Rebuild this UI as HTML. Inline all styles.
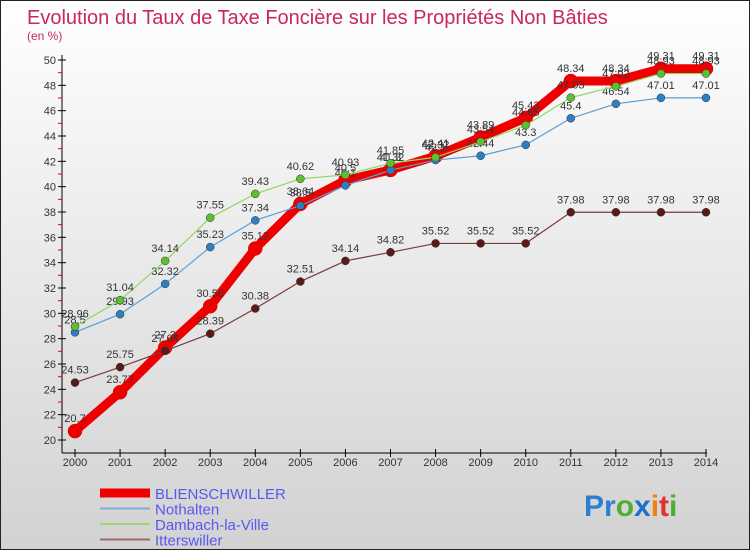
<!DOCTYPE html>
<html><head><meta charset="utf-8"><style>
body{margin:0;width:750px;height:550px;overflow:hidden;font-family:"Liberation Sans",sans-serif}
</style></head><body>
<svg width="750" height="550" viewBox="0 0 750 550">
<defs><linearGradient id="bg" x1="0" y1="0" x2="0" y2="1"><stop offset="0" stop-color="#ffffff"/><stop offset="1" stop-color="#d2d2d2"/></linearGradient></defs>
<rect x="0.5" y="0.5" width="749" height="549" fill="url(#bg)" stroke="#222"/>
<text x="27" y="24" font-size="20" fill="#c8285a">Evolution du Taux de Taxe Foncière sur les Propriétés Non Bâties</text>
<text x="27" y="40" font-size="12" fill="#c8285a">(en %)</text>
<g id="axes"></g><g id="series"></g><g id="legend"></g>
<text x="584" y="516" font-size="30" font-weight="bold"><tspan fill="#2a7fd4">Pr</tspan><tspan fill="#4caf30">o</tspan><tspan fill="#1a6fd0">x</tspan><tspan fill="#f08010">i</tspan><tspan fill="#e03030">t</tspan><tspan fill="#4caf30">i</tspan></text>
</svg>
<script>
const years=[2000,2001,2002,2003,2004,2005,2006,2007,2008,2009,2010,2011,2012,2013,2014];
const yTicks=[20,22,24,26,28,30,32,34,36,38,40,42,44,46,48,50];
const seriesNames=["BLIENSCHWILLER","Nothalten","Dambach-la-Ville","Itterswiller"];
const blien=[20.7,23.77,27.3,30.56,35.12,38.64,40.5,41.32,42.41,43.89,45.43,48.34,48.34,49.31,49.31];
const noth=[28.5,29.93,32.32,35.23,37.34,38.5,40.1,41.3,42.1,42.44,43.3,45.4,46.54,47.01,47.01];
const damb=[28.96,31.04,34.14,37.55,39.43,40.62,40.93,41.85,42.32,43.54,44.85,47.03,47.92,48.93,48.93];
const itter=[24.53,25.75,27.04,28.39,30.38,32.51,34.14,34.82,35.52,35.52,35.52,37.98,37.98,37.98,37.98];
const NS="http://www.w3.org/2000/svg";
const X=i=>75+i*(706-75)/14;
const Y=v=>440-(v-20)*(380/30);
function mk(tag,attrs,parent){const e=document.createElementNS(NS,tag);for(const k in attrs)e.setAttribute(k,attrs[k]);parent.appendChild(e);return e;}
const ax=document.getElementById('axes');
let l=mk('line',{x1:62,y1:55,x2:62,y2:453,stroke:'#000'},ax);


l=mk('line',{x1:62,y1:453,x2:707,y2:453,stroke:'#000'},ax);


yTicks.forEach(v=>{
  mk('line',{x1:58,y1:Y(v),x2:66,y2:Y(v),stroke:'#000'},ax);
  if(v<50)mk('line',{x1:58,y1:Y(v+1),x2:62,y2:Y(v+1),stroke:'#e00'},ax);
  const t=mk('text',{x:56,y:Y(v)+4,'font-size':11,'text-anchor':'end',fill:'#333'},ax);t.textContent=v;
  
  
});
years.forEach((y,i)=>{
  mk('line',{x1:X(i),y1:449,x2:X(i),y2:457,stroke:'#000'},ax);
  const t=mk('text',{x:X(i),y:466,'font-size':11,'text-anchor':'middle',fill:'#333'},ax);t.textContent=y;
  
  
});
const sg=document.getElementById('series');
const defs=[[itter,'#7a3b3b','#5a1a1a',1.2,4,'itterswiller'],[noth,'#5a9fd4','#2f7fc0',1.2,4,'nothalten'],[damb,'#8ed860','#5cc030',1.2,4,'dambach-la-ville'],[blien,'#ee0000','#ee0000',9,7,'blienschwiller']];
// draw order: blien under? draw blien before small series except labels
const order=[3,0,1,2];
order.forEach(k=>{
  const [d,lc,pc,w,r,name]=defs[k];
  const g=mk('g',{},sg);
  
  
  const p=mk('polyline',{points:d.map((v,i)=>X(i)+','+Y(v)).join(' '),fill:'none',stroke:lc,'stroke-width':w,'stroke-linejoin':'round'},g);
  
  
  d.forEach((v,i)=>{
    const c=mk('circle',{cx:X(i),cy:Y(v),r:r,fill:pc,stroke:k==3?'#c00':'#333','stroke-width':0.5},g);
    
    
    const t=mk('text',{x:X(i),y:Y(v)-9,'font-size':11,'text-anchor':'middle',fill:'#333'},g);
    t.textContent=v;
    
    
  });
});
const lg=document.getElementById('legend');
const lcols=['#ee0000','#7fb0d8','#9ad870','#a06868'],lw=[9,2,2,2];
seriesNames.forEach((n,i)=>{
  const y=493+i*15.5;
  const e=mk('g',{},lg);
  
  
  mk('line',{x1:100,y1:y,x2:150,y2:y,stroke:lcols[i],'stroke-width':lw[i]},e);
  const t=mk('text',{x:155,y:y+6,'font-size':15,fill:'#5858f0'},e);t.textContent=n;
});
</script>
</body></html>
